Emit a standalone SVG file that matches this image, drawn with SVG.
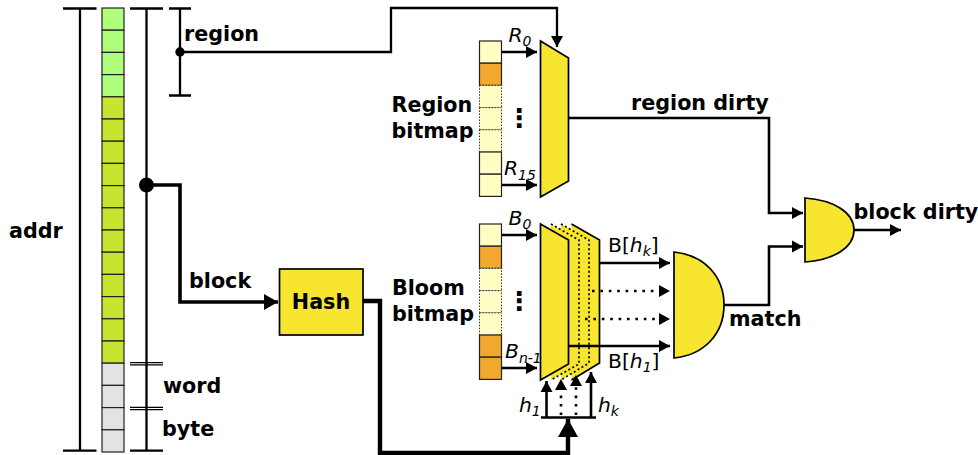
<svg xmlns="http://www.w3.org/2000/svg" width="978" height="455" viewBox="0 0 978 455">
<style>
text{font-family:"DejaVu Sans",sans-serif;fill:#000}
.b{font-weight:bold;font-size:20.7px}
.v{font-weight:bold;font-size:26px;text-anchor:middle}
.i{font-style:italic;font-size:20.3px}
.n{font-size:20.3px}
.l{fill:none;stroke:#000;stroke-width:2.300}
.w{fill:none;stroke:#000;stroke-width:1.200}
.m{fill:none;stroke:#000;stroke-width:2.600}
.t{fill:none;stroke:#000;stroke-width:3.600}
.h{fill:none;stroke:#000;stroke-width:4.400}
.d{fill:none;stroke:#000;stroke-width:2.600;stroke-dasharray:2.600 5.800}
.g{fill:#afff7a;stroke:#222;stroke-width:1.200}
.y{fill:#c6e52f;stroke:#222;stroke-width:1.200}
.e{fill:#e3e3e3;stroke:#222;stroke-width:1.200}
.c{fill:#ffffc4;stroke:#222;stroke-width:1.200}
.o{fill:#f2a72e;stroke:#222;stroke-width:1.200}
.q{fill:#ffffc4;stroke:#333;stroke-width:1;stroke-dasharray:1.500 1.500}
.f{fill:#f8e52f;stroke:#000;stroke-width:1.700}
.fd{fill:#f8e52f;stroke:#000;stroke-width:1.700;stroke-dasharray:2 2.500}
</style>
<defs>
<marker id="a" markerUnits="userSpaceOnUse" markerWidth="12" markerHeight="14" refX="11" refY="6.500" orient="auto"><path d="M0,0.500L11,6.500L0,12.500z"/></marker>
<marker id="m2" markerUnits="userSpaceOnUse" markerWidth="15" markerHeight="18" refX="14" refY="8.500" orient="auto"><path d="M0,0.500L14,8.500L0,16.500z"/></marker>
<marker id="big" markerUnits="userSpaceOnUse" markerWidth="19" markerHeight="22" refX="18" refY="10.500" orient="auto"><path d="M0,0.500L18,10.500L0,20.500z"/></marker>
</defs>

<g id="scales">
<path class="l" d="M80,8.500V450.700M63,8.500H96.500M63,450.700H96.500"/>
<path class="l" d="M146.500,8.500V450.700M130,8.500H163M130,450.700H163"/>
<path class="w" d="M130,362.600H163M130,364.800H163M130,407.400H163M130,409.600H163"/>
<path class="l" d="M180,8.500V95.500M169,8.500H191M169,95.500H191"/>
<text class="b" x="9" y="238">addr</text>
<text class="b" x="163" y="393">word</text>
<text class="b" x="162" y="436">byte</text>
</g>

<g id="address">
<rect class="g" x="102" y="8" width="22" height="22.200"/><rect class="g" x="102" y="30.200" width="22" height="22.200"/><rect class="g" x="102" y="52.400" width="22" height="22.200"/><rect class="g" x="102" y="74.600" width="22" height="22.200"/>
<rect class="y" x="102" y="96.800" width="22" height="22.200"/><rect class="y" x="102" y="119" width="22" height="22.200"/><rect class="y" x="102" y="141.200" width="22" height="22.200"/><rect class="y" x="102" y="163.400" width="22" height="22.200"/><rect class="y" x="102" y="185.600" width="22" height="22.200"/><rect class="y" x="102" y="207.800" width="22" height="22.200"/><rect class="y" x="102" y="230" width="22" height="22.200"/><rect class="y" x="102" y="252.200" width="22" height="22.200"/><rect class="y" x="102" y="274.400" width="22" height="22.200"/><rect class="y" x="102" y="296.600" width="22" height="22.200"/><rect class="y" x="102" y="318.800" width="22" height="22.200"/><rect class="y" x="102" y="341" width="22" height="22.200"/>
<rect class="e" x="102" y="363.200" width="22" height="22.200"/><rect class="e" x="102" y="385.400" width="22" height="22.200"/><rect class="e" x="102" y="407.600" width="22" height="22.200"/><rect class="e" x="102" y="429.800" width="22" height="22.200"/>
</g>

<g id="connectors">
<path class="l" d="M180,52H391V8H557V47" marker-end="url(#a)"/>
<circle cx="180" cy="52" r="4.700"/>
<circle cx="146.500" cy="185" r="7.500"/>
<path class="t" d="M146,185H180V302H278" marker-end="url(#m2)"/>
<path class="h" d="M363,301H380V453H568V419" marker-end="url(#big)"/>
<path class="m" d="M501,52H537" marker-end="url(#a)"/>
<path class="m" d="M501,185H537" marker-end="url(#a)"/>
<path class="m" d="M501,235H537" marker-end="url(#a)"/>
<path class="m" d="M501,368H537" marker-end="url(#a)"/>
<path class="m" d="M568,118H769V213H803" marker-end="url(#a)"/>
<path class="m" d="M724,305H769V246.500H803" marker-end="url(#a)"/>
<path class="m" d="M854,230H901" marker-end="url(#a)"/>
</g>

<g id="region-bitmap">
<rect class="c" x="479.500" y="41" width="22" height="22.200"/><rect class="o" x="479.500" y="63.200" width="22" height="22.200"/><rect class="q" x="479.500" y="85.400" width="22" height="22.200"/><rect class="q" x="479.500" y="107.600" width="22" height="22.200"/><rect class="q" x="479.500" y="129.800" width="22" height="22.200"/><rect class="c" x="479.500" y="152" width="22" height="22.200"/><rect class="c" x="479.500" y="174.200" width="22" height="22.200"/>
<text class="b" x="391.500" y="112">Region</text>
<text class="b" x="391.500" y="138">bitmap</text>
<text class="v" x="519" y="127">⋮</text>
<text class="i" x="508.500" y="42">R<tspan font-size="14" dy="3.500">0</tspan></text>
<text class="i" x="504" y="175">R<tspan font-size="14" dy="4.500">15</tspan></text>
</g>

<g id="region-mux"><path class="f" d="M540.500,41L568.500,58V181L540.500,197z"/></g>

<g id="hash"><rect x="279.500" y="269" width="83.500" height="66" fill="#f8e52f" stroke="#000" stroke-width="1.700"/><text class="b" x="321" y="309" text-anchor="middle">Hash</text></g>
<text class="b" x="189" y="288">block</text>
<text class="b" x="184" y="41">region</text>
<text class="b" x="631" y="110">region dirty</text>
<text class="b" x="853.500" y="219">block dirty</text>
<text class="b" x="729" y="326">match</text>

<g id="bloom-bitmap">
<rect class="c" x="479.500" y="224" width="22" height="22.200"/><rect class="o" x="479.500" y="246.200" width="22" height="22.200"/><rect class="q" x="479.500" y="268.400" width="22" height="22.200"/><rect class="q" x="479.500" y="290.600" width="22" height="22.200"/><rect class="q" x="479.500" y="312.800" width="22" height="22.200"/><rect class="o" x="479.500" y="335" width="22" height="22.200"/><rect class="o" x="479.500" y="357.200" width="22" height="22.200"/>
<text class="b" x="392" y="295">Bloom</text>
<text class="b" x="392" y="321">bitmap</text>
<text class="v" x="519" y="310">⋮</text>
<text class="i" x="508.500" y="225">B<tspan font-size="14" dy="3.500">0</tspan></text>
<text class="i" x="505" y="358">B<tspan font-size="14" dy="4.500">n-1</tspan></text>
</g>

<g id="bloom-mux">
<path class="f" d="M571.500,224L599.500,240V363L571.500,380"/>
<path class="fd" d="M561,224L589,240V363L561,380"/>
<path class="fd" d="M551,224L579,240V364L551,380"/>
<path class="f" d="M540.500,224L568.500,240V364L540.500,380z"/>
</g>

<g id="bloom-out">
<path class="m" d="M600,263H670" marker-end="url(#a)"/>
<path class="d" d="M592,291H666"/><path d="M659,285L670,291L659,297z"/>
<path class="d" d="M585,319H666"/><path d="M659,313L670,319L659,325z"/>
<path class="m" d="M569,346H670" marker-end="url(#a)"/>
<text class="n" x="608" y="252">B[<tspan font-style="italic">h<tspan font-size="14" dy="4">k</tspan></tspan><tspan dy="-4">]</tspan></text>
<text class="n" x="608" y="368">B[<tspan font-style="italic">h<tspan font-size="14" dy="4">1</tspan></tspan><tspan dy="-4">]</tspan></text>
</g>

<g id="hash-bus">
<path class="m" d="M541,417.500H596"/>
<path class="m" d="M546.500,417V381" marker-end="url(#a)"/>
<path class="m" d="M591,417V372" marker-end="url(#a)"/>
<path class="d" d="M561,415V391"/><path d="M555,390L561,379L567,390z"/>
<path class="d" d="M576,415V387"/><path d="M570,386L576,375L582,386z"/>
<text class="i" x="519" y="412">h<tspan font-size="14" dy="4">1</tspan></text>
<text class="i" x="598" y="412">h<tspan font-size="14" dy="4">k</tspan></text>
</g>

<g id="match-gate"><path class="f" d="M674,252C704,255 724,276 724,305C724,334 704,355 674,358z"/></g>
<g id="dirty-gate"><path class="f" d="M805,198C833,200 854,212 854,230C854,248 833,260 805,262z"/></g>
</svg>
